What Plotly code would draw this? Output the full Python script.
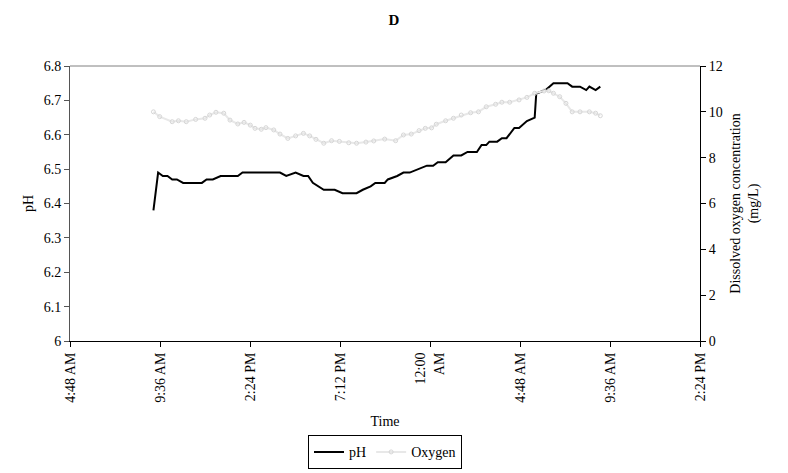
import plotly.graph_objects as go

# ---- data ----
ph_time = ["2000-01-01 09:15", "2000-01-01 09:30", "2000-01-01 09:45", "2000-01-01 10:00",
           "2000-01-01 10:15", "2000-01-01 10:30", "2000-01-01 10:50", "2000-01-01 11:50",
           "2000-01-01 12:05", "2000-01-01 12:25", "2000-01-01 12:50", "2000-01-01 13:45",
           "2000-01-01 14:00", "2000-01-01 16:00", "2000-01-01 16:20", "2000-01-01 16:50",
           "2000-01-01 17:15", "2000-01-01 17:30", "2000-01-01 17:45", "2000-01-01 18:20",
           "2000-01-01 18:55", "2000-01-01 19:20", "2000-01-01 20:05", "2000-01-01 20:25",
           "2000-01-01 20:50", "2000-01-01 21:05", "2000-01-01 21:35", "2000-01-01 21:45",
           "2000-01-01 22:15", "2000-01-01 22:35", "2000-01-01 22:55", "2000-01-01 23:20",
           "2000-01-01 23:50", "2000-01-02 00:10", "2000-01-02 00:25", "2000-01-02 00:50",
           "2000-01-02 01:15", "2000-01-02 01:40", "2000-01-02 02:00", "2000-01-02 02:30",
           "2000-01-02 02:45", "2000-01-02 03:00", "2000-01-02 03:10", "2000-01-02 03:35",
           "2000-01-02 03:50", "2000-01-02 04:05", "2000-01-02 04:30", "2000-01-02 04:45",
           "2000-01-02 05:10", "2000-01-02 05:35", "2000-01-02 05:40", "2000-01-02 06:10",
           "2000-01-02 06:35", "2000-01-02 07:20", "2000-01-02 07:35", "2000-01-02 08:00",
           "2000-01-02 08:20", "2000-01-02 08:30", "2000-01-02 08:50", "2000-01-02 09:05"]
ph_value = [6.38, 6.49, 6.48, 6.48, 6.47, 6.47, 6.46, 6.46,
            6.47, 6.47, 6.48, 6.48, 6.49, 6.49, 6.48, 6.49,
            6.48, 6.48, 6.46, 6.44, 6.44, 6.43, 6.43, 6.44,
            6.45, 6.46, 6.46, 6.47, 6.48, 6.49, 6.49, 6.50,
            6.51, 6.51, 6.52, 6.52, 6.54, 6.54, 6.55, 6.55,
            6.57, 6.57, 6.58, 6.58, 6.59, 6.59, 6.62, 6.62,
            6.64, 6.65, 6.72, 6.73, 6.75, 6.75, 6.74, 6.74,
            6.73, 6.74, 6.73, 6.74]

ox_time = ["2000-01-01 09:15", "2000-01-01 09:35", "2000-01-01 10:15", "2000-01-01 10:35",
           "2000-01-01 11:00", "2000-01-01 11:30", "2000-01-01 12:00", "2000-01-01 12:15",
           "2000-01-01 12:35", "2000-01-01 13:00", "2000-01-01 13:20", "2000-01-01 13:45",
           "2000-01-01 14:05", "2000-01-01 14:25", "2000-01-01 14:40", "2000-01-01 15:00",
           "2000-01-01 15:15", "2000-01-01 15:40", "2000-01-01 16:00", "2000-01-01 16:25",
           "2000-01-01 16:50", "2000-01-01 17:15", "2000-01-01 17:35", "2000-01-01 17:55",
           "2000-01-01 18:20", "2000-01-01 18:45", "2000-01-01 19:10", "2000-01-01 19:40",
           "2000-01-01 20:05", "2000-01-01 20:35", "2000-01-01 21:00", "2000-01-01 21:35",
           "2000-01-01 22:10", "2000-01-01 22:35", "2000-01-01 23:00", "2000-01-01 23:25",
           "2000-01-01 23:45", "2000-01-02 00:05", "2000-01-02 00:20", "2000-01-02 00:50",
           "2000-01-02 01:15", "2000-01-02 01:40", "2000-01-02 02:10", "2000-01-02 02:35",
           "2000-01-02 03:00", "2000-01-02 03:30", "2000-01-02 03:50", "2000-01-02 04:15",
           "2000-01-02 04:45", "2000-01-02 05:10", "2000-01-02 05:35", "2000-01-02 06:05",
           "2000-01-02 06:20", "2000-01-02 06:35", "2000-01-02 06:55", "2000-01-02 07:15",
           "2000-01-02 07:35", "2000-01-02 08:00", "2000-01-02 08:30", "2000-01-02 08:50",
           "2000-01-02 09:05"]
ox_value = [10.0, 9.79, 9.57, 9.61, 9.57, 9.67, 9.72, 9.86,
            9.98, 9.94, 9.64, 9.47, 9.54, 9.42, 9.28, 9.24,
            9.31, 9.21, 9.03, 8.84, 8.95, 9.06, 8.95, 8.80,
            8.63, 8.74, 8.71, 8.65, 8.63, 8.68, 8.73, 8.81,
            8.74, 8.99, 9.03, 9.18, 9.28, 9.30, 9.46, 9.61,
            9.72, 9.86, 9.96, 10.0, 10.22, 10.33, 10.42, 10.42,
            10.52, 10.63, 10.81, 10.91, 10.92, 10.81, 10.66, 10.37,
            10.0, 10.0, 10.0, 9.94, 9.83]

tick_vals = ["2000-01-01 04:48", "2000-01-01 09:36", "2000-01-01 14:24", "2000-01-01 19:12",
             "2000-01-02 00:00", "2000-01-02 04:48", "2000-01-02 09:36", "2000-01-02 14:24"]
tick_text = ["4:48 AM", "9:36 AM", "2:24 PM", "7:12 PM", "12:00<br>AM",
             "4:48 AM", "9:36 AM", "2:24 PM"]

FONT = "Liberation Serif, Times New Roman, serif"
FS = 14

fig = go.Figure()
fig.add_trace(go.Scatter(
    x=ox_time, y=ox_value, name="Oxygen", yaxis="y2", mode="lines+markers",
    line=dict(color="#e8e8e8", width=2),
    marker=dict(symbol="circle-open", size=4, color="#d6d6d6", line=dict(width=1)),
))
fig.add_trace(go.Scatter(
    x=ph_time, y=ph_value, name="pH", mode="lines",
    line=dict(color="black", width=2),
))

fig.update_layout(
    width=788, height=473,
    margin=dict(l=70, r=88, t=66, b=132, autoexpand=False),
    paper_bgcolor="white", plot_bgcolor="white",
    font=dict(family=FONT, size=FS, color="black"),
    title=dict(text="<b>D</b>", x=0.5, xref="container", xanchor="center",
               y=1 - 20 / 473, yref="container", yanchor="middle",
               font=dict(family=FONT, size=15, color="black")),
    showlegend=True,
    legend=dict(orientation="h", x=0.5, xanchor="center", y=-0.343, yanchor="top",
                bordercolor="black", borderwidth=1, bgcolor="white",
                traceorder="reversed", itemwidth=30,
                font=dict(family=FONT, size=FS), tracegroupgap=0),
    xaxis=dict(
        type="date",
        range=[tick_vals[0], tick_vals[-1]],
        tickmode="array", tickvals=tick_vals, ticktext=tick_text,
        tickangle=-90, ticks="outside", ticklen=5, tickcolor="black",
        showline=True, linecolor="black", linewidth=1,
        showgrid=False, zeroline=False, automargin=False,
        title=dict(text="Time", font=dict(family=FONT, size=FS), standoff=14),
    ),
    yaxis=dict(
        range=[6, 6.8], dtick=0.1, tick0=6,
        ticks="outside", ticklen=5, tickcolor="#555555",
        showline=True, linecolor="#555555", linewidth=1,
        showgrid=False, zeroline=False, automargin=False,
        title=dict(text="pH", font=dict(family=FONT, size=FS), standoff=6),
    ),
    yaxis2=dict(
        range=[0, 12], dtick=2, tick0=0, overlaying="y", side="right",
        ticks="outside", ticklen=5, tickcolor="black",
        showline=True, linecolor="black", linewidth=1,
        showgrid=False, zeroline=False, automargin=False,
        title=dict(text="Dissolved oxygen concentration<br>(mg/L)",
                   font=dict(family=FONT, size=FS), standoff=8),
    ),
    shapes=[dict(type="line", xref="paper", yref="paper", x0=0, x1=1, y0=1, y1=1,
                 line=dict(color="#808080", width=1))],
)

fig.write_html("out.html")
